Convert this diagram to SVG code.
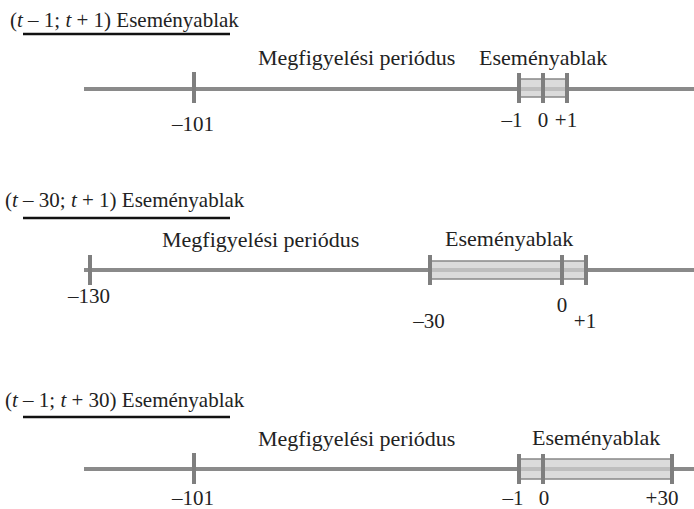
<svg xmlns="http://www.w3.org/2000/svg" width="694" height="509" viewBox="0 0 694 509">
  <style>
    text { font-family: "Liberation Serif", "Times New Roman", serif; font-size: 21px; fill: #222; }
    .lbl { font-size: 22px; }
    .mid { text-anchor: middle; }
    .axis { stroke: #8a8a8a; stroke-width: 4; fill: none; }
    .tick { stroke: #7f7f7f; stroke-width: 4; fill: none; }
    .win { fill: #cfcfcf; fill-opacity: 0.75; stroke: #888; stroke-width: 1.5; }
    .ul { stroke: #111; stroke-width: 2.6; }
  </style>

  <!-- Panel 1 -->
  <g id="panel1">
    <text x="10" y="27">(<tspan font-style="italic">t</tspan> – 1; <tspan font-style="italic">t</tspan> + 1) Eseményablak</text>
    <line class="ul" x1="23" y1="34" x2="230" y2="34"/>
    <text class="lbl" x="258" y="65">Megfigyelési periódus</text>
    <text class="lbl" x="479" y="65">Eseményablak</text>
    <line class="axis" x1="84" y1="89" x2="694" y2="89"/>
    <rect class="win" x="519" y="79" width="48" height="18"/>
    <line class="tick" x1="194" y1="72" x2="194" y2="103"/>
    <line class="tick" x1="519" y1="73" x2="519" y2="103"/>
    <line class="tick" x1="543" y1="73" x2="543" y2="103"/>
    <line class="tick" x1="567" y1="73" x2="567" y2="103"/>
    <text class="mid" x="193" y="131">–101</text>
    <text class="mid" x="512" y="127">–1</text>
    <text class="mid" x="543" y="127">0</text>
    <text class="mid" x="566" y="127">+1</text>
  </g>

  <!-- Panel 2 -->
  <g id="panel2">
    <text x="5" y="207">(<tspan font-style="italic">t</tspan> – 30; <tspan font-style="italic">t</tspan> + 1) Eseményablak</text>
    <line class="ul" x1="23" y1="218" x2="230" y2="218"/>
    <text class="lbl" x="162" y="247">Megfigyelési periódus</text>
    <text class="lbl" x="445" y="246">Eseményablak</text>
    <line class="axis" x1="84" y1="270" x2="694" y2="270"/>
    <rect class="win" x="431" y="261" width="154" height="18"/>
    <line class="tick" x1="90" y1="255" x2="90" y2="285"/>
    <line class="tick" x1="430" y1="255" x2="430" y2="285"/>
    <line class="tick" x1="562" y1="255" x2="562" y2="285"/>
    <line class="tick" x1="586" y1="255" x2="586" y2="285"/>
    <text class="mid" x="89" y="303">–130</text>
    <text class="mid" x="429" y="328">–30</text>
    <text class="mid" x="562" y="312">0</text>
    <text class="mid" x="585" y="328">+1</text>
  </g>

  <!-- Panel 3 -->
  <g id="panel3">
    <text x="5" y="407">(<tspan font-style="italic">t</tspan> – 1; <tspan font-style="italic">t</tspan> + 30) Eseményablak</text>
    <line class="ul" x1="23" y1="417" x2="230" y2="417"/>
    <text class="lbl" x="258" y="446">Megfigyelési periódus</text>
    <text class="lbl" x="532" y="445">Eseményablak</text>
    <line class="axis" x1="84" y1="469" x2="694" y2="469"/>
    <rect class="win" x="519" y="459" width="153" height="20"/>
    <line class="tick" x1="194" y1="453" x2="194" y2="484"/>
    <line class="tick" x1="519" y1="454" x2="519" y2="484"/>
    <line class="tick" x1="543" y1="454" x2="543" y2="484"/>
    <line class="tick" x1="672" y1="454" x2="672" y2="484"/>
    <text class="mid" x="193" y="505">–101</text>
    <text class="mid" x="513" y="505">–1</text>
    <text class="mid" x="544" y="505">0</text>
    <text class="mid" x="662" y="505">+30</text>
  </g>
</svg>
